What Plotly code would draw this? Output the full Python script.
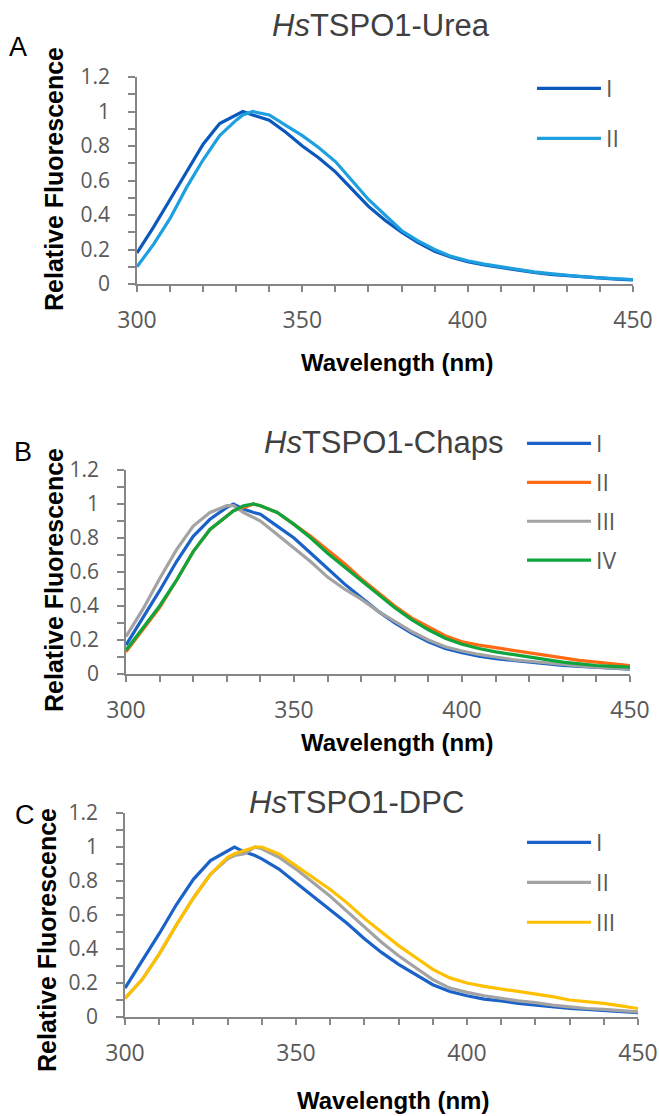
import plotly.graph_objects as go

# ---------------- data ----------------
wavelength = [300, 305, 310, 315, 320, 325, 330, 332, 335, 338, 340, 345, 350, 355, 360, 365,
              370, 375, 380, 385, 390, 395, 400, 405, 410, 415, 420, 425, 430, 435, 440, 445, 450]

# Panel A: HsTSPO1-Urea
urea_I = [0.18, 0.33, 0.49, 0.65, 0.81, 0.93, 0.98, 1.00, 0.98, 0.96, 0.95, 0.88, 0.80, 0.73, 0.65, 0.55,
          0.45, 0.37, 0.30, 0.24, 0.19, 0.155, 0.13, 0.11, 0.095, 0.08, 0.067, 0.056, 0.048, 0.04, 0.034, 0.028, 0.024]
urea_II = [0.10, 0.23, 0.38, 0.56, 0.72, 0.86, 0.95, 0.98, 1.00, 0.99, 0.98, 0.92, 0.86, 0.79, 0.71, 0.60,
           0.49, 0.40, 0.31, 0.25, 0.20, 0.16, 0.135, 0.115, 0.10, 0.085, 0.07, 0.06, 0.05, 0.042, 0.036, 0.03, 0.026]

# Panel B: HsTSPO1-Chaps
chaps_I = [0.17, 0.33, 0.49, 0.66, 0.81, 0.91, 0.98, 1.00, 0.97, 0.95, 0.94, 0.87, 0.80, 0.71, 0.62, 0.53,
           0.45, 0.37, 0.30, 0.24, 0.19, 0.15, 0.125, 0.105, 0.09, 0.08, 0.07, 0.06, 0.05, 0.045, 0.04, 0.033, 0.028]
chaps_II = [0.13, 0.26, 0.39, 0.55, 0.72, 0.85, 0.93, 0.96, 0.98, 1.00, 0.99, 0.95, 0.88, 0.81, 0.73, 0.65,
            0.56, 0.48, 0.40, 0.33, 0.275, 0.225, 0.19, 0.17, 0.155, 0.14, 0.125, 0.11, 0.095, 0.08, 0.07, 0.06, 0.05]
chaps_III = [0.22, 0.38, 0.56, 0.73, 0.87, 0.95, 0.99, 0.99, 0.95, 0.92, 0.90, 0.82, 0.74, 0.66, 0.57, 0.50,
             0.44, 0.37, 0.31, 0.25, 0.20, 0.16, 0.135, 0.115, 0.10, 0.085, 0.075, 0.065, 0.055, 0.048, 0.04, 0.035, 0.03]
chaps_IV = [0.14, 0.27, 0.40, 0.55, 0.72, 0.85, 0.93, 0.96, 0.99, 1.00, 0.99, 0.95, 0.88, 0.80, 0.71, 0.63,
            0.55, 0.47, 0.39, 0.32, 0.26, 0.21, 0.175, 0.15, 0.13, 0.115, 0.10, 0.085, 0.07, 0.06, 0.05, 0.045, 0.04]

# Panel C: HsTSPO1-DPC
dpc_I = [0.17, 0.33, 0.49, 0.66, 0.81, 0.92, 0.98, 1.00, 0.97, 0.95, 0.93, 0.87, 0.79, 0.71, 0.63, 0.55,
         0.46, 0.38, 0.31, 0.25, 0.19, 0.15, 0.125, 0.105, 0.095, 0.08, 0.07, 0.06, 0.05, 0.045, 0.038, 0.032, 0.025]
dpc_II = [0.11, 0.22, 0.37, 0.54, 0.70, 0.84, 0.93, 0.95, 0.96, 1.00, 0.99, 0.94, 0.87, 0.79, 0.71, 0.62,
          0.53, 0.44, 0.36, 0.29, 0.22, 0.17, 0.145, 0.125, 0.11, 0.095, 0.085, 0.07, 0.06, 0.05, 0.045, 0.038, 0.03]
dpc_III = [0.11, 0.22, 0.37, 0.54, 0.70, 0.84, 0.94, 0.96, 0.98, 1.00, 1.00, 0.96, 0.89, 0.82, 0.75, 0.67,
           0.58, 0.50, 0.42, 0.35, 0.28, 0.23, 0.20, 0.18, 0.165, 0.15, 0.135, 0.12, 0.10, 0.09, 0.08, 0.065, 0.05]

series_names_A = ["I", "II"]
series_names_B = ["I", "II", "III", "IV"]
series_names_C = ["I", "II", "III"]

panel_titles = ["<i>Hs</i>TSPO1-Urea", "<i>Hs</i>TSPO1-Chaps", "<i>Hs</i>TSPO1-DPC"]
panel_letters = ["A", "B", "C"]
x_title = "Wavelength (nm)"
y_title = "Relative Fluorescence"

x_tick_vals = [300, 350, 400, 450]
x_tick_text = ["300", "350", "400", "450"]
y_tick_vals = [0, 0.2, 0.4, 0.6, 0.8, 1.0, 1.2]
y_tick_text = ["0", "0.2", "0.4", "0.6", "0.8", "1", "1.2"]

# ---------------- layout helpers ----------------
W, H = 659, 1116


def fx(p):
    return p / W


def fy(p):
    return 1 - p / H


AXIS_COLOR = "#868686"
XTICK_FONT = dict(family="Open Sans", size=23, color="#595959")
YTICK_FONT = dict(family="Open Sans", size=21, color="#595959")
TITLE_FONT = dict(family="Liberation Sans, Arial", size=31, color="#404040")
YLABEL_FONT = dict(family="Liberation Sans, Arial", size=25, color="#000000")
XLABEL_FONT = dict(family="Liberation Sans, Arial", size=24, color="#000000")


def x_axis(x0, x1, anchor):
    return dict(domain=[fx(x0), fx(x1)], anchor=anchor, range=[300, 450],
                tickmode="array", tickvals=x_tick_vals, ticktext=x_tick_text,
                ticks="outside", ticklen=6, tickwidth=1.5, tickcolor=AXIS_COLOR,
                minor=dict(tickmode="linear", tick0=300, dtick=10, ticks="outside",
                           ticklen=6, tickwidth=1.5, tickcolor=AXIS_COLOR),
                showline=True, linecolor=AXIS_COLOR, linewidth=1.5,
                showgrid=False, zeroline=False, tickfont=XTICK_FONT,
                ticklabelstandoff=9, fixedrange=True, automargin=False)


def y_axis(top, bottom, anchor):
    return dict(domain=[fy(bottom), fy(top)], anchor=anchor, range=[0, 1.2],
                tickmode="array", tickvals=y_tick_vals, ticktext=y_tick_text,
                ticks="outside", ticklen=7, tickwidth=1.5, tickcolor=AXIS_COLOR,
                minor=dict(tickmode="linear", tick0=0, dtick=0.1, ticks="outside",
                           ticklen=7, tickwidth=1.5, tickcolor=AXIS_COLOR),
                showline=True, linecolor=AXIS_COLOR, linewidth=1.5,
                showgrid=False, zeroline=False, tickfont=YTICK_FONT,
                ticklabelstandoff=14, fixedrange=True, automargin=False)


fig = go.Figure()

panels = [
    dict(xa="x", ya="y", legend="legend", names=series_names_A,
         data=[urea_I, urea_II], colors=["#0B58BC", "#1E9FE0"]),
    dict(xa="x2", ya="y2", legend="legend2", names=series_names_B,
         data=[chaps_I, chaps_II, chaps_III, chaps_IV],
         colors=["#1A62C8", "#FF6A13", "#A3A3A3", "#0FA53C"]),
    dict(xa="x3", ya="y3", legend="legend3", names=series_names_C,
         data=[dpc_I, dpc_II, dpc_III], colors=["#1A62C8", "#A3A3A3", "#FFC000"]),
]

for pi, p in enumerate(panels):
    for name, vals, col in zip(p["names"], p["data"], p["colors"]):
        fig.add_trace(go.Scatter(x=wavelength, y=vals, mode="lines", name=name,
                                 line=dict(color=col, width=3.2),
                                 xaxis=p["xa"], yaxis=p["ya"], legend=p["legend"],
                                 legendgroup=f"p{pi}{name}", showlegend=True,
                                 hoverinfo="skip"))

LEG_FONT = dict(family="Open Sans", size=23, color="#595959")

fig.update_layout(
    width=W, height=H, margin=dict(l=0, r=0, t=0, b=0),
    paper_bgcolor="white", plot_bgcolor="white",
    xaxis=x_axis(137, 633, "y"), yaxis=y_axis(77, 284, "x"),
    xaxis2=x_axis(126, 630, "y2"), yaxis2=y_axis(470, 674, "x2"),
    xaxis3=x_axis(125, 638, "y3"), yaxis3=y_axis(813, 1017, "x3"),
    legend=dict(x=fx(532), y=fy(67), xanchor="left", yanchor="top", font=LEG_FONT,
                tracegroupgap=17, itemwidth=64, bgcolor="rgba(0,0,0,0)"),
    legend2=dict(x=fx(522), y=fy(422), xanchor="left", yanchor="top", font=LEG_FONT,
                 tracegroupgap=6, itemwidth=64, bgcolor="rgba(0,0,0,0)"),
    legend3=dict(x=fx(522), y=fy(821), xanchor="left", yanchor="top", font=LEG_FONT,
                 tracegroupgap=7, itemwidth=64, bgcolor="rgba(0,0,0,0)"),
    showlegend=True,
)

annotations = []
title_pos = [(381, 25), (383, 443), (357, 802)]
letter_pos = [(18, 47), (23, 452), (25, 815)]
ytitle_pos = [(54, 179), (54, 580), (47, 940)]
xtitle_pos = [(397, 363), (397, 742), (393, 1100)]
for i in range(3):
    annotations.append(dict(text=panel_titles[i], x=fx(title_pos[i][0]), y=fy(title_pos[i][1]),
                            xref="paper", yref="paper", showarrow=False,
                            xanchor="center", yanchor="middle", font=TITLE_FONT))
    annotations.append(dict(text=panel_letters[i], x=fx(letter_pos[i][0]), y=fy(letter_pos[i][1]),
                            xref="paper", yref="paper", showarrow=False,
                            xanchor="center", yanchor="middle",
                            font=dict(family="Liberation Sans, Arial", size=27, color="#000000")))
    annotations.append(dict(text=f"<b>{y_title}</b>", x=fx(ytitle_pos[i][0]), y=fy(ytitle_pos[i][1]),
                            xref="paper", yref="paper", showarrow=False, textangle=-90,
                            xanchor="center", yanchor="middle", font=YLABEL_FONT))
    annotations.append(dict(text=f"<b>{x_title}</b>", x=fx(xtitle_pos[i][0]), y=fy(xtitle_pos[i][1]),
                            xref="paper", yref="paper", showarrow=False,
                            xanchor="center", yanchor="middle", font=XLABEL_FONT))
fig.update_layout(annotations=annotations)

fig.write_html("out.html", config={"displayModeBar": False},
               post_script="document.body.style.margin='0px';")
